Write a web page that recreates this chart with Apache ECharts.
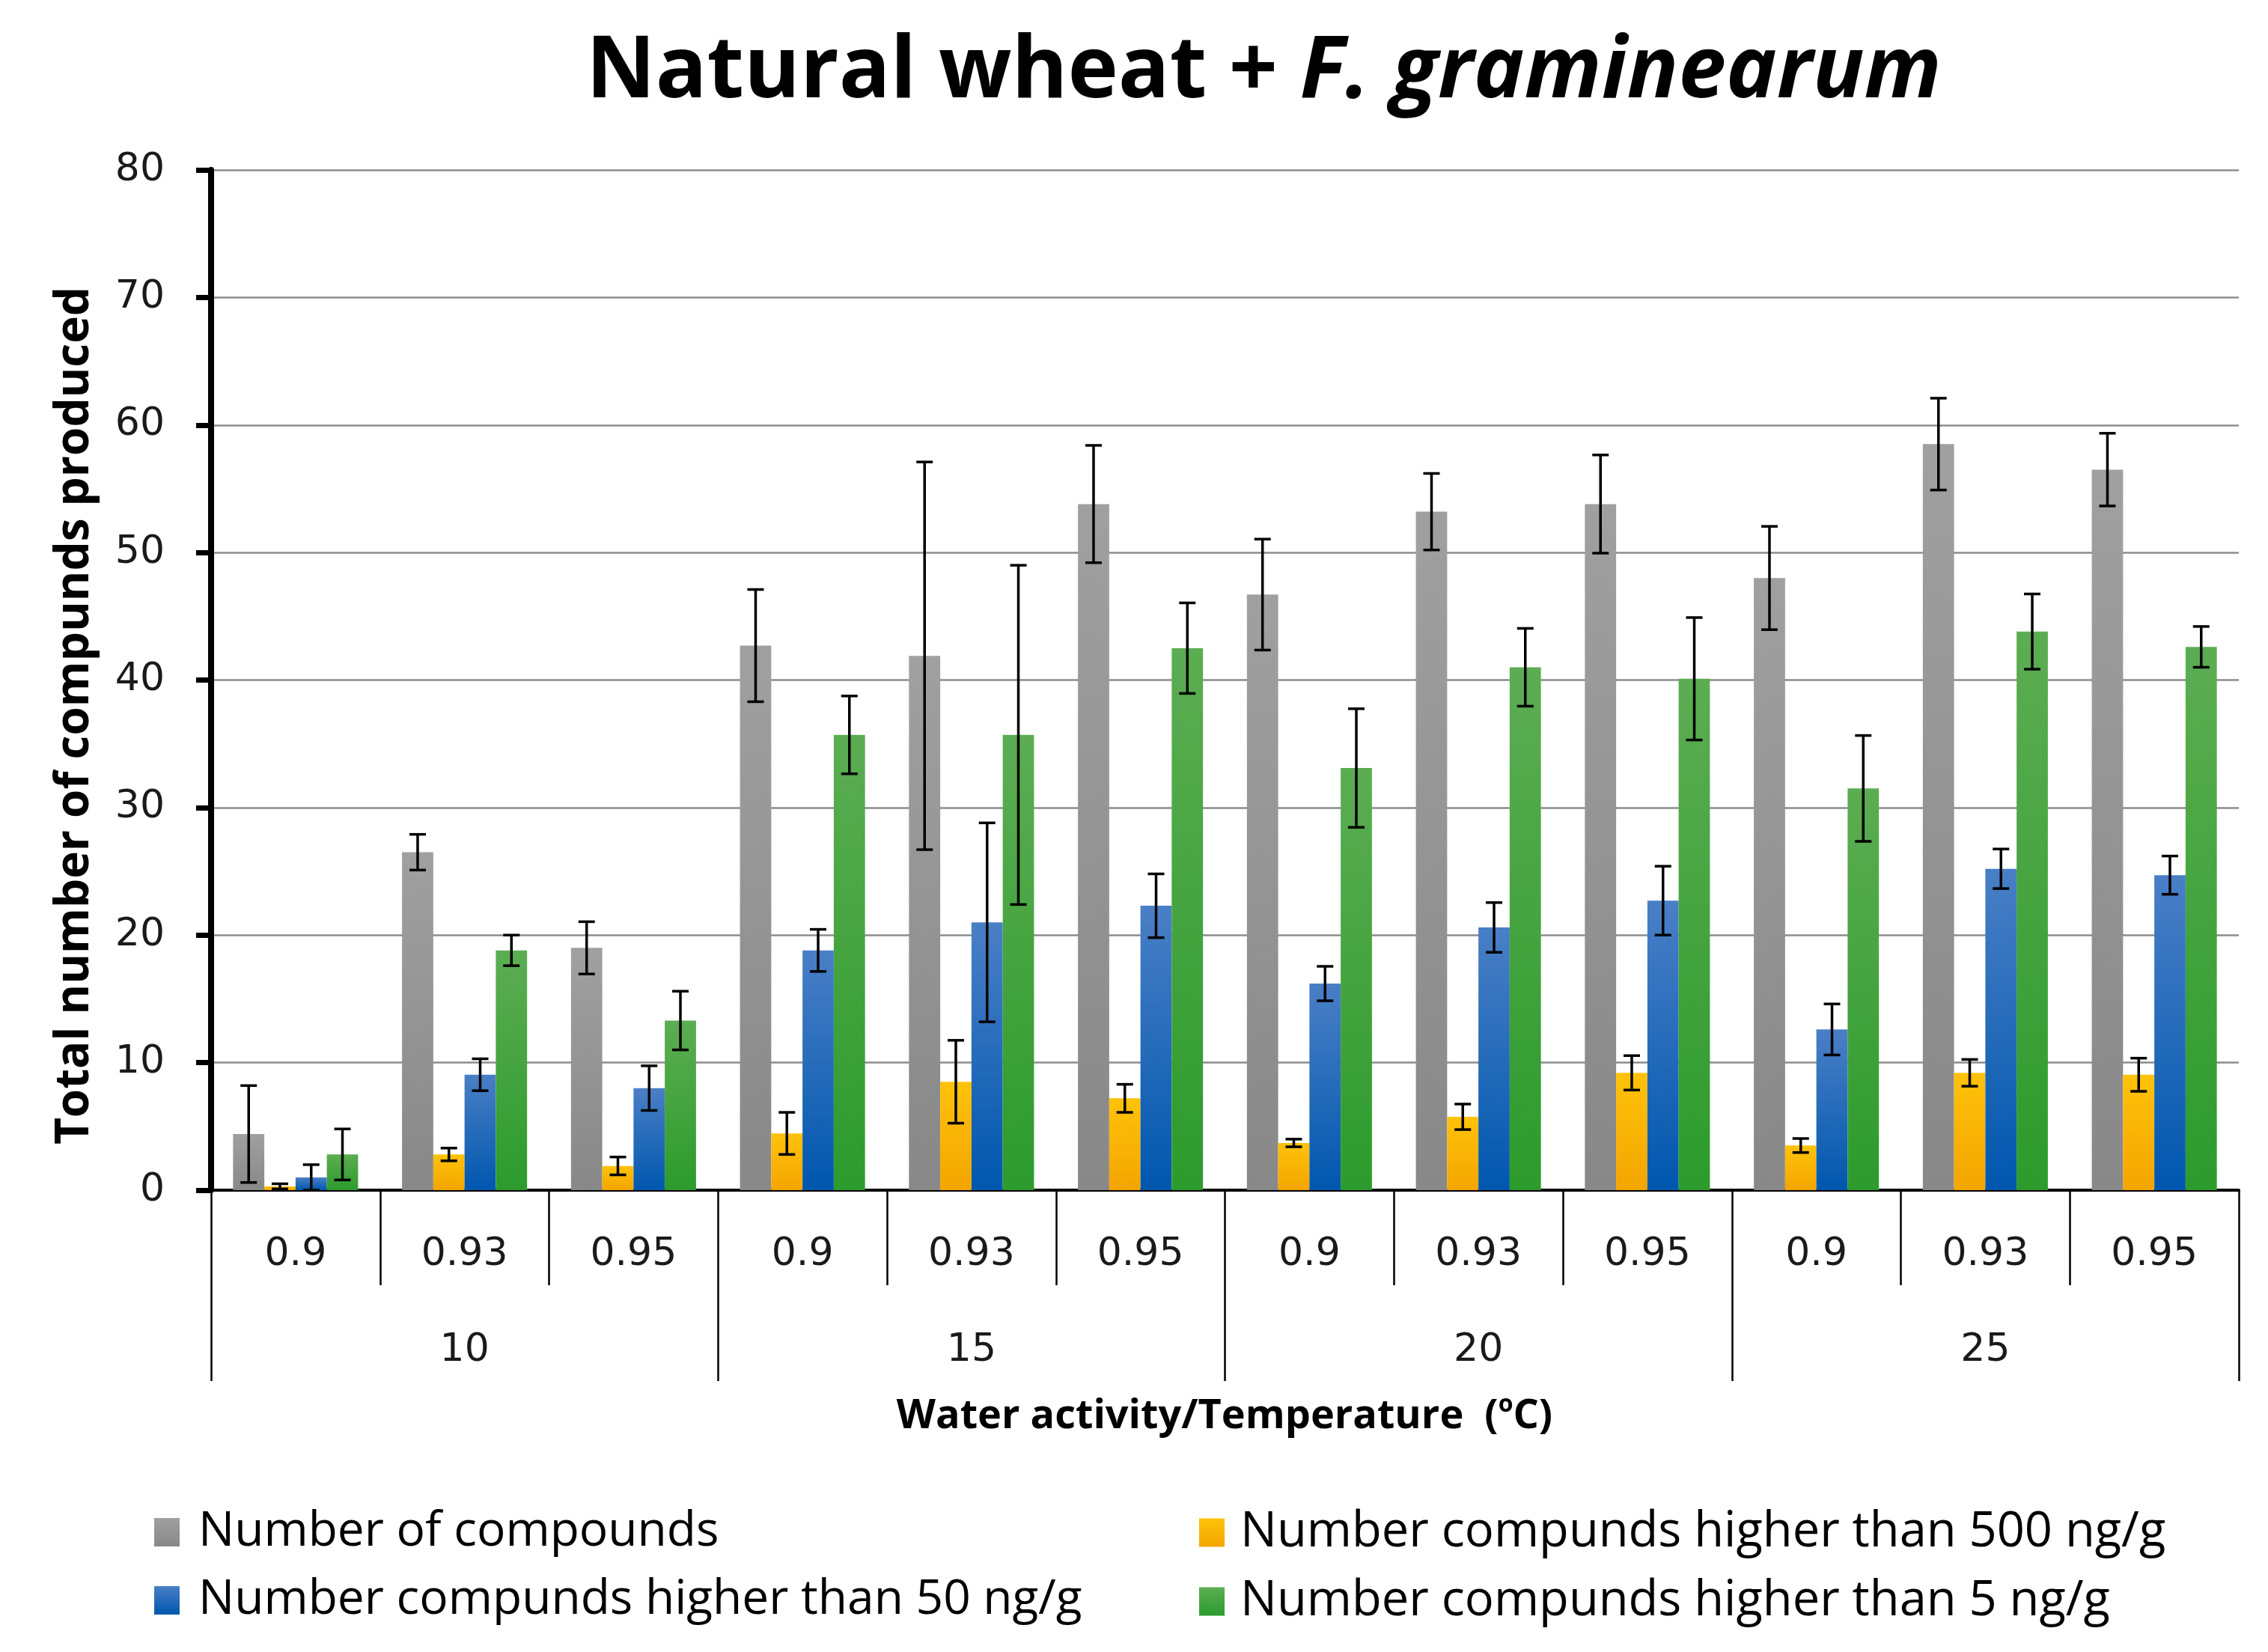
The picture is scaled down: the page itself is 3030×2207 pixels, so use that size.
<!DOCTYPE html>
<html>
<head>
<meta charset="utf-8">
<script src="https://cdn.jsdelivr.net/npm/echarts@6/dist/echarts.min.js"></script>
<style>html,body{margin:0;padding:0;background:#fff;}#chart{width:3030px;height:2207px;}</style>
</head>
<body>
<div id="chart"></div>
<script>
const waterActivity = ['0.9','0.93','0.95','0.9','0.93','0.95','0.9','0.93','0.95','0.9','0.93','0.95'];
const temperatures = ['10','15','20','25'];
const yTicks = [0,10,20,30,40,50,60,70,80];
const seriesNames = ['Number of compounds','Number compunds higher than 500 ng/g','Number compunds higher than 50 ng/g','Number compunds higher than 5 ng/g'];

const totalCompounds = [4.4, 26.5, 19.0, 42.7, 41.9, 53.8, 46.7, 53.2, 53.8, 48.0, 58.5, 56.5];
const totalErr       = [3.8, 1.4, 2.05, 4.4, 15.2, 4.6, 4.35, 3.0, 3.85, 4.05, 3.6, 2.85];
const above500       = [0.3, 2.8, 1.9, 4.45, 8.5, 7.2, 3.7, 5.75, 9.2, 3.5, 9.2, 9.05];
const above500Err    = [0.2, 0.5, 0.7, 1.65, 3.25, 1.1, 0.3, 1.0, 1.35, 0.55, 1.05, 1.3];
const above50        = [1.0, 9.05, 8.0, 18.8, 21.0, 22.3, 16.2, 20.6, 22.7, 12.6, 25.2, 24.7];
const above50Err     = [1.0, 1.25, 1.75, 1.65, 7.8, 2.5, 1.35, 1.95, 2.7, 2.0, 1.55, 1.5];
const above5         = [2.8, 18.8, 13.3, 35.7, 35.7, 42.5, 33.1, 41.0, 40.1, 31.5, 43.8, 42.6];
const above5Err      = [2.0, 1.2, 2.3, 3.05, 13.3, 3.55, 4.65, 3.05, 4.8, 4.15, 2.95, 1.6];

const values = [totalCompounds, above500, above50, above5];
const errors = [totalErr, above500Err, above50Err, above5Err];

function grad(top, bottom){
  return new echarts.graphic.LinearGradient(0,0,0,1,[{offset:0,color:top},{offset:1,color:bottom}]);
}
const colors = [grad('#a0a0a0','#888888'), grad('#ffc20a','#f3a500'), grad('#4a7fc6','#0057ae'), grad('#5cad52','#2c9b2c')];

const GAP = 0.26;
const errData = [];
for (let s = 0; s < 4; s++) {
  for (let i = 0; i < waterActivity.length; i++) {
    errData.push([i, values[s][i] - errors[s][i], values[s][i] + errors[s][i], s]);
  }
}

const chart = echarts.init(document.getElementById('chart'), null, {renderer:'canvas'});
const barSeries = seriesNames.map((n, s) => ({
  name: n, type: 'bar', xAxisIndex: 0, yAxisIndex: 0,
  data: values[s],
  barGap: '0%', barCategoryGap: (GAP*100) + '%',
  itemStyle: {color: colors[s]},
  emphasis: {disabled: true},
  z: 2
}));

const option = {
  backgroundColor: '#fff',
  animation: false,
  title: {
    text: '{a|Natural wheat + }{b|F. graminearum}',
    left: 778, top: 36,
    textStyle: {
      rich: {
        a: {fontFamily: 'Open Sans', fontWeight: 'bold', fontSize: 114, color: '#000'},
        b: {fontFamily: 'Open Sans', fontWeight: 'bold', fontStyle: 'italic', fontSize: 114, color: '#000'}
      }
    }
  },
  grid: {left: 282, right: 39, top: 227, bottom: 617, containLabel: false},
  legend: [
    {
      data: [seriesNames[0], seriesNames[2]],
      orient: 'vertical', left: 201, top: 2010,
      itemWidth: 34, itemHeight: 38, itemGap: 27, icon: 'rect',
      textStyle: {fontFamily: 'Open Sans', fontSize: 64, color: '#000', padding: [0,0,0,20]}
    },
    {
      data: [seriesNames[1], seriesNames[3]],
      orient: 'vertical', left: 1597, top: 2010,
      itemWidth: 34, itemHeight: 38, itemGap: 27, icon: 'rect',
      textStyle: {fontFamily: 'Open Sans', fontSize: 65, color: '#000', padding: [0,0,0,16]}
    }
  ],
  xAxis: [
    {
      type: 'category', data: waterActivity, position: 'bottom',
      axisLine: {show: true, onZero: false, lineStyle: {color: '#000', width: 4}},
      axisTick: {show: true, interval: 0, length: 127, lineStyle: {color: '#000', width: 2.5}},
      axisLabel: {interval: 0, margin: 60, fontFamily: 'DejaVu Sans', fontSize: 52, color: '#1a1a1a'},
      splitLine: {show: false}
    },
    {
      type: 'category', data: temperatures, position: 'bottom',
      axisLine: {show: false},
      axisTick: {show: true, interval: 0, length: 255, lineStyle: {color: '#000', width: 2.5}},
      axisLabel: {interval: 0, margin: 188, fontFamily: 'DejaVu Sans', fontSize: 52, color: '#1a1a1a'},
      splitLine: {show: false}
    }
  ],
  yAxis: {
    type: 'value', min: yTicks[0], max: yTicks[yTicks.length-1], interval: 10,
    axisLine: {show: true, lineStyle: {color: '#000', width: 8}},
    axisTick: {show: true, length: 20, lineStyle: {color: '#000', width: 7}},
    axisLabel: {margin: 62, fontFamily: 'DejaVu Sans', fontSize: 52, color: '#1a1a1a'},
    splitLine: {show: true, lineStyle: {color: '#8c8c8c', width: 2.5}}
  },
  graphic: [
    {
      type: 'text', x: 100, y: 956, rotation: Math.PI/2,
      style: {text: 'Total number of compunds produced', fontFamily: 'Open Sans', fontWeight: 'bold', fontSize: 62, fill: '#000', align: 'center', verticalAlign: 'middle'}
    },
    {
      type: 'text', x: 1636, y: 1893,
      style: {
        text: '{t|Water activity/Temperature  (}{s|o}{t|C)}',
        align: 'center', verticalAlign: 'middle',
        rich: {
          t: {fontFamily: 'Open Sans', fontWeight: 'bold', fontSize: 54, fill: '#000', lineHeight: 64},
          s: {fontFamily: 'Open Sans', fontWeight: 'bold', fontSize: 32, fill: '#000', lineHeight: 64, verticalAlign: 'top', padding: [0,0,26,0]}
        }
      }
    }
  ],
  series: barSeries.concat([{
    type: 'custom', name: 'errors', xAxisIndex: 0, yAxisIndex: 0, z: 5,
    data: errData,
    encode: {x: 0, y: [1, 2]},
    renderItem: function(params, api) {
      const cat = api.value(0), lo = api.value(1), hi = api.value(2), s = api.value(3);
      const catW = api.size([1, 0])[0];
      const barW = catW * (1 - GAP) / 4;
      const cx = api.coord([cat, 0])[0] - catW * (1 - GAP) / 2 + (s + 0.5) * barW;
      const yLo = api.coord([cat, Math.max(lo, 0)])[1];
      const yHi = api.coord([cat, hi])[1];
      const cap = 11;
      const st = {stroke: '#000', lineWidth: 3.5};
      return {type: 'group', children: [
        {type: 'line', shape: {x1: cx, y1: yLo, x2: cx, y2: yHi}, style: st},
        {type: 'line', shape: {x1: cx-cap, y1: yHi, x2: cx+cap, y2: yHi}, style: st},
        {type: 'line', shape: {x1: cx-cap, y1: yLo, x2: cx+cap, y2: yLo}, style: st}
      ]};
    }
  }])
};
chart.setOption(option);
</script>
</body>
</html>
